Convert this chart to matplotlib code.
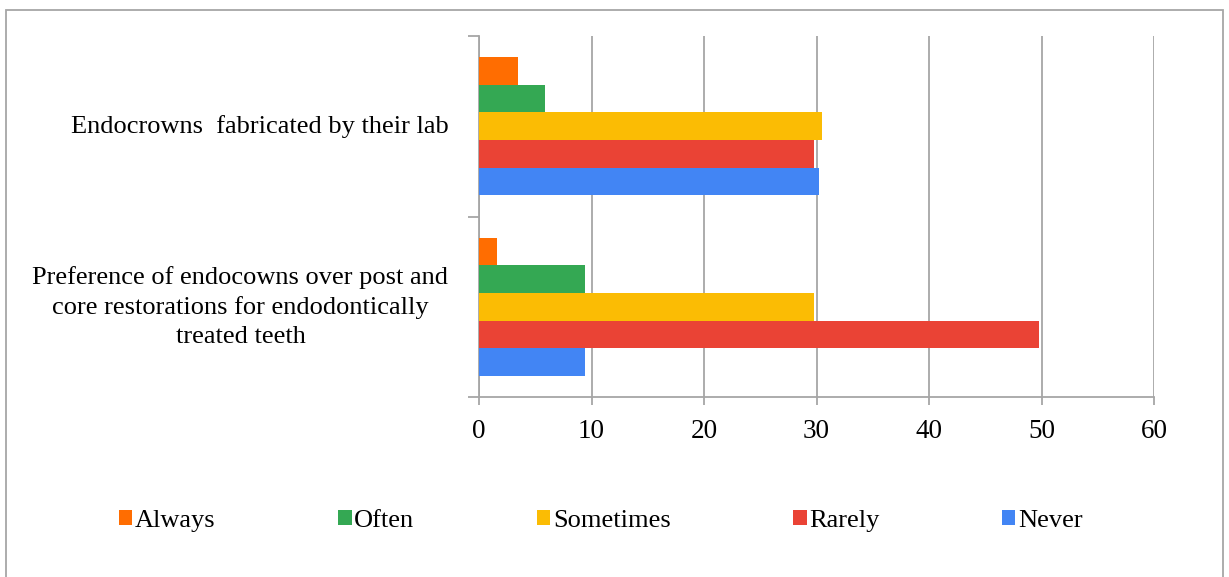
import matplotlib.pyplot as plt
import numpy as np
from matplotlib.patches import Rectangle

plt.rcParams["font.family"] = ["Liberation Serif", "DejaVu Serif"]

categories = [
    "Preference of endocowns over post and\ncore restorations for endodontically\ntreated teeth",
    "Endocrowns  fabricated by their lab",
]
series = ["Never", "Rarely", "Sometimes", "Often", "Always"]
values = {
    "Never":     [9.4, 30.2],
    "Rarely":    [49.8, 29.8],
    "Sometimes": [29.8, 30.5],
    "Often":     [9.4, 5.9],
    "Always":    [1.6, 3.5],
}
colors = {
    "Never": "#4285F4",
    "Rarely": "#EA4335",
    "Sometimes": "#FBBC04",
    "Often": "#34A853",
    "Always": "#FF6D01",
}
xticks = [0, 10, 20, 30, 40, 50, 60]

grid_col = "#a6a6a6"

fig = plt.figure(figsize=(12.29, 5.77), dpi=100)
ax = fig.add_axes([479 / 1229, 1 - 397 / 577, (1154 - 479) / 1229, (397 - 36) / 577])

y = np.arange(len(categories))
h = 0.153
for i, s in enumerate(series):
    offs = (i - 2) * h
    ax.barh(y + offs, values[s], height=h, color=colors[s], label=s, zorder=3)

ax.set_xlim(0, 60)
ax.set_ylim(-0.5, 1.5)
ax.set_xticks(xticks)
ax.set_xticklabels([str(t) for t in xticks], fontsize=19.5)
ax.set_yticks(y)
ax.set_yticklabels(categories, fontsize=19, ha="right", multialignment="center",
                   linespacing=1.4, va="center")
ax.tick_params(axis="y", which="major", length=0, pad=22)
ax.set_yticks([-0.5, 0.5, 1.5], minor=True)
ax.tick_params(axis="y", which="minor", length=8, color=grid_col, width=1.3)
ax.tick_params(axis="x", length=6, color=grid_col, width=1.3, pad=10)

ax.grid(axis="x", color=grid_col, linewidth=1.3, zorder=0)
for side in ["top", "right"]:
    ax.spines[side].set_visible(False)
for side in ["left", "bottom"]:
    ax.spines[side].set_color(grid_col)
    ax.spines[side].set_linewidth(1.3)

handles, labels = ax.get_legend_handles_labels()
handles, labels = handles[::-1], labels[::-1]
fig.legend(handles, labels, loc="center", bbox_to_anchor=(601 / 1229, 1 - 521 / 577),
           ncol=5, frameon=False, fontsize=19, handlelength=0.5, handleheight=0.5,
           handletextpad=0.1, columnspacing=4.65)

fig.patches.append(Rectangle((6 / 1229, -0.1), (1223 - 6) / 1229, 1.1 - 10 / 577,
                             transform=fig.transFigure, fill=False,
                             edgecolor=grid_col, linewidth=1.3))

fig.savefig("out.png", dpi=100)
